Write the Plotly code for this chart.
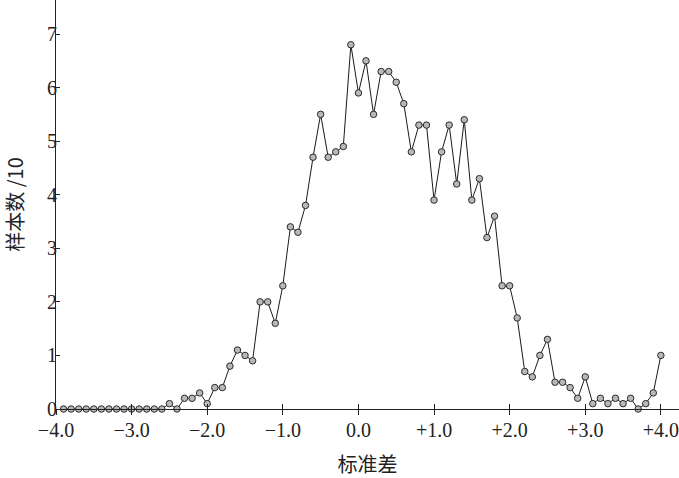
import plotly.graph_objects as go

# x positions (standard deviation), step 0.1 from -3.9 to +4.0
x_vals = [round(-3.9 + 0.1 * i, 1) for i in range(80)]

# sample counts /10
y_vals = [
    0, 0, 0, 0, 0, 0, 0, 0, 0, 0, 0, 0, 0, 0,          # -3.9 .. -2.6
    0.1, 0, 0.2, 0.2, 0.3, 0.1,                        # -2.5 .. -2.0
    0.4, 0.4, 0.8, 1.1, 1.0, 0.9, 2.0, 2.0, 1.6, 2.3,  # -1.9 .. -1.0
    3.4, 3.3, 3.8, 4.7, 5.5, 4.7, 4.8, 4.9, 6.8, 5.9,  # -0.9 .. 0.0
    6.5, 5.5, 6.3, 6.3, 6.1, 5.7, 4.8, 5.3, 5.3, 3.9,  # 0.1 .. 1.0
    4.8, 5.3, 4.2, 5.4, 3.9, 4.3, 3.2, 3.6, 2.3, 2.3,  # 1.1 .. 2.0
    1.7, 0.7, 0.6, 1.0, 1.3, 0.5, 0.5, 0.4, 0.2, 0.6,  # 2.1 .. 3.0
    0.1, 0.2, 0.1, 0.2, 0.1, 0.2, 0, 0.1, 0.3, 1.0,    # 3.1 .. 4.0
]

x_tickvals = [-4, -3, -2, -1, 0, 1, 2, 3, 4]
x_ticktext = ["\u22124.0", "\u22123.0", "\u22122.0", "\u22121.0", "0.0",
              "+1.0", "+2.0", "+3.0", "+4.0"]
y_tickvals = [0, 1, 2, 3, 4, 5, 6, 7]

x_title = "标准差"
y_title = "样本数 /10"

FONT = "Liberation Serif, Times New Roman, Noto Sans CJK SC, serif"
AXIS_COLOR = "#222222"

fig = go.Figure()
fig.add_trace(go.Scatter(
    x=x_vals, y=y_vals, mode="lines+markers",
    line=dict(color="#1a1a1a", width=1),
    marker=dict(size=6.5, color="#b8b8b8", line=dict(color="#2a2a2a", width=1)),
    cliponaxis=False, showlegend=False,
))
# invisible trace for the overlay axis (ticks crossing the axis line)
fig.add_trace(go.Scatter(
    x=x_vals, y=y_vals, mode="lines", xaxis="x2",
    line=dict(color="rgba(0,0,0,0)", width=0),
    hoverinfo="skip", showlegend=False,
))

xrange = [-4.0, 4.24]
fig.update_layout(
    width=679, height=478,
    margin=dict(l=56, r=0, t=0, b=69),
    paper_bgcolor="white", plot_bgcolor="white",
    font=dict(family=FONT, size=20, color="#222222"),
    xaxis=dict(
        range=xrange, tickvals=x_tickvals, ticktext=x_ticktext,
        ticks="outside", ticklen=5, tickwidth=1, tickcolor=AXIS_COLOR,
        showline=True, linecolor=AXIS_COLOR, linewidth=1,
        showgrid=False, zeroline=False,
        ticklabelstandoff=-2,
        title=dict(text=x_title, font=dict(size=20, family="Noto Sans CJK SC"), standoff=18),
    ),
    xaxis2=dict(
        range=xrange, overlaying="x", side="bottom", anchor="y",
        tickvals=x_tickvals, ticks="inside", ticklen=5, tickwidth=1,
        tickcolor=AXIS_COLOR, showticklabels=False, showline=False,
        showgrid=False, zeroline=False,
    ),
    yaxis=dict(
        range=[0, 7.635], tickvals=y_tickvals,
        ticks="inside", ticklen=4, tickwidth=1, tickcolor=AXIS_COLOR,
        showline=True, linecolor=AXIS_COLOR, linewidth=1,
        showgrid=False, zeroline=False,
        ticklabelstandoff=-6,
        title=dict(text=y_title, font=dict(size=20, family="Noto Sans CJK SC"), standoff=22),
    ),
)

fig.write_html("out.html", config={"displayModeBar": False},
               post_script="document.body.style.margin='0';document.body.style.overflow='hidden';")
